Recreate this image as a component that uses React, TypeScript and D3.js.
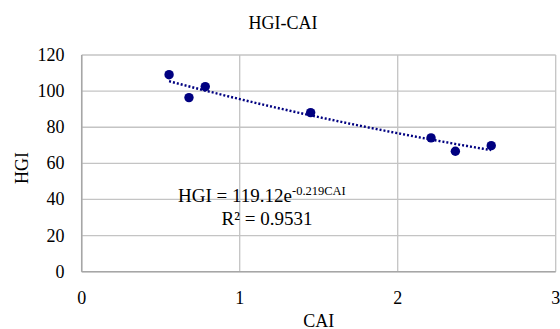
import React from "react";
import * as d3 from "d3";

const cai = [0.553, 0.679, 0.782, 1.449, 2.211, 2.365, 2.592];
const hgi = [109.1, 96.4, 102.5, 88.1, 74.1, 66.7, 69.8];
const xTicks = [0, 1, 2, 3];
const yTicks = [0, 20, 40, 60, 80, 100, 120];
const title = "HGI-CAI";
const xLabel = "CAI";
const yLabel = "HGI";

const W = 560, H = 329;
const L = 81.7, R = 555.7, T = 55, B = 271.7;
const FONT = "'Liberation Serif', 'Times New Roman', Times, serif";
const NAVY = "#000080";

export default function App() {
  const x = d3.scaleLinear().domain([0, 3]).range([L, R]);
  const y = d3.scaleLinear().domain([0, 120]).range([B, T]);

  // exponential fit: ln(y) = a + b x
  const n = cai.length;
  const ly = hgi.map((v) => Math.log(v));
  const mx = d3.mean(cai)!;
  const my = d3.mean(ly)!;
  let sxy = 0, sxx = 0;
  for (let i = 0; i < n; i++) {
    sxy += (cai[i] - mx) * (ly[i] - my);
    sxx += (cai[i] - mx) ** 2;
  }
  const b = sxy / sxx;
  const a = my - b * mx;
  const x0 = d3.min(cai)!, x1 = d3.max(cai)!;
  const fitPts: [number, number][] = d3.range(0, 41).map((i) => {
    const xv = x0 + ((x1 - x0) * i) / 40;
    return [xv, Math.exp(a + b * xv)];
  });
  const line = d3
    .line<[number, number]>()
    .x((d) => x(d[0]))
    .y((d) => y(d[1]));

  const ts: React.CSSProperties = { fontFamily: FONT, fontSize: 18 };
  const es: React.CSSProperties = { fontFamily: FONT, fontSize: 19 };

  return (
    <svg width={W} height={H} style={{ position: "absolute", left: 0, top: 0, fontFamily: FONT }}>
      <rect width={W} height={H} fill="#fff" />
      <text x={283} y={28.5} textAnchor="middle" style={ts} fill="#000">{title}</text>
      {yTicks.map((t) => (
        <line key={"gy" + t} x1={L} x2={R} y1={y(t)} y2={y(t)} stroke="#c4c4c4" strokeWidth={1.3} />
      ))}
      {xTicks.map((t) => (
        <line key={"gx" + t} x1={x(t)} x2={x(t)} y1={T} y2={B} stroke="#c4c4c4" strokeWidth={1.3} />
      ))}
      <line x1={L} x2={R} y1={B} y2={B} stroke="#a6a6a6" strokeWidth={1.5} />
      <line x1={L} x2={L} y1={T} y2={B} stroke="#a6a6a6" strokeWidth={1.5} />
      {yTicks.map((t) => (
        <text key={"ty" + t} x={64.5} y={y(t) + 6} textAnchor="end" style={ts} fill="#000">{t}</text>
      ))}
      {xTicks.map((t) => (
        <text key={"tx" + t} x={x(t)} y={303.5} textAnchor="middle" style={ts} fill="#000">{t}</text>
      ))}
      <text x={318.7} y={327} textAnchor="middle" style={ts} fill="#000">{xLabel}</text>
      <text transform={`translate(27.5,168) rotate(-90)`} textAnchor="middle" style={ts} fill="#000">{yLabel}</text>
      <path d={line(fitPts)!} fill="none" stroke={NAVY} strokeWidth={2.4} strokeDasharray="2 2" />
      {cai.map((c, i) => (
        <circle key={i} cx={x(c)} cy={y(hgi[i])} r={4.7} fill={NAVY} />
      ))}
      <text x={178} y={201.5} style={es} fill="#000">
        HGI = 119.12e<tspan style={{ fontSize: 12.5 }} dy={-7}>-0.219CAI</tspan>
      </text>
      <text x={267} y={225} textAnchor="middle" style={es} fill="#000">R² = 0.9531</text>
    </svg>
  );
}
